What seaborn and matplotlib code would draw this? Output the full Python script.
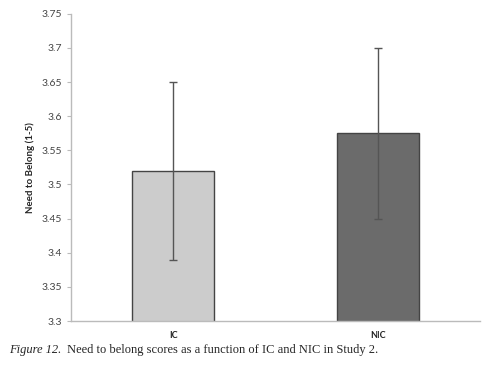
import numpy as np
import pandas as pd
import matplotlib.pyplot as plt
import seaborn as sns

# data
conditions = ["IC", "NIC"]
means = [3.52, 3.575]
errors = [0.13, 0.125]
bar_colors = ["#cccccc", "#6b6b6b"]
yticks = [3.3, 3.35, 3.4, 3.45, 3.5, 3.55, 3.6, 3.65, 3.7, 3.75]

df = pd.DataFrame({"condition": conditions, "score": means})

sns.set_style("white")
plt.rcParams["font.family"] = ["Lato", "DejaVu Sans"]

fig = plt.figure(figsize=(5, 3.84), dpi=100)
ax = fig.add_axes([0.142, 0.164, 0.818, 0.8])

sns.barplot(data=df, x="condition", y="score", hue="condition",
            palette=bar_colors, width=0.4, edgecolor="#444444",
            linewidth=1.0, legend=False, ax=ax)
ax.errorbar(range(len(conditions)), means, yerr=errors, fmt="none",
            ecolor="#555555", elinewidth=1.0, capsize=3, capthick=1.0)

ax.set_ylim(3.3, 3.75)
ax.set_yticks(yticks)
ax.set_yticklabels([f"{t:g}" for t in yticks], color="#444444", fontsize=7.5)
ax.set_xlim(-0.5, 1.5)
ax.set_xticks(range(len(conditions)))
ax.set_xticklabels(conditions, fontsize=6.5, fontweight="bold", color="#222222")
ax.set_xticks([0.5], minor=True)
ax.tick_params(axis="x", which="major", length=0, pad=7)
ax.tick_params(axis="x", which="minor", length=3, color="#bbbbbb")
ax.tick_params(axis="y", length=3, color="#bbbbbb", left=True)
ax.set_xlabel("")
ax.set_ylabel("Need to Belong (1-5)", fontsize=7, fontweight="bold", labelpad=5)

for side in ["top", "right"]:
    ax.spines[side].set_visible(False)
for side in ["left", "bottom"]:
    ax.spines[side].set_color("#bbbbbb")
    ax.spines[side].set_linewidth(1.0)

fig.text(0.018, 0.082, "Figure 12.", fontsize=9, style="italic",
         family="Liberation Serif")
fig.text(0.128, 0.082, " Need to belong scores as a function of IC and NIC in Study 2.",
         fontsize=9, family="Liberation Serif")

fig.savefig("out.png", dpi=100)
